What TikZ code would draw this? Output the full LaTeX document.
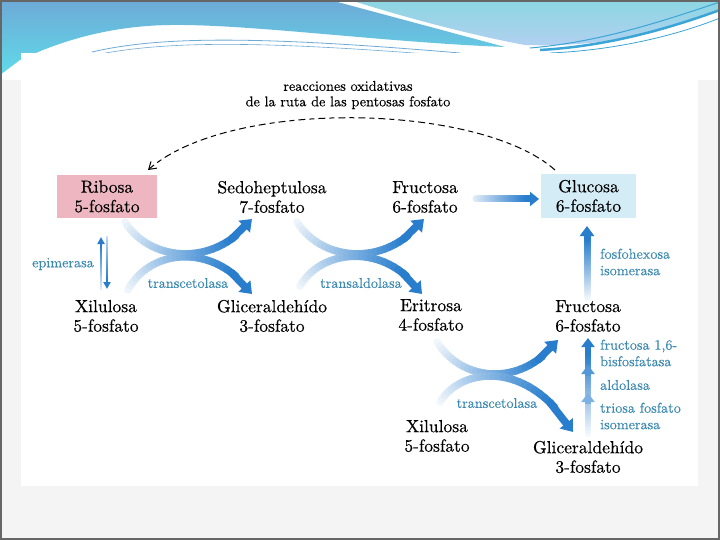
\documentclass[tikz,border=0pt]{standalone}
\usepackage{fontspec}
\newfontfamily\heavyrm{lmroman10-regular.otf}[FakeBold=0.4]
\newfontfamily\midrm{lmroman10-regular.otf}[FakeBold=0.15]
\usetikzlibrary{arrows.meta}
\definecolor{abl}{RGB}{40,125,205}
\definecolor{enz}{RGB}{60,138,178}
\definecolor{pinkbox}{RGB}{238,182,192}
\definecolor{bluebox}{RGB}{212,236,245}
\definecolor{slidebg}{RGB}{244,244,244}
\definecolor{waveA}{RGB}{110,170,215}
\definecolor{waveB}{RGB}{95,218,233}
\definecolor{waveC}{RGB}{140,214,226}
\definecolor{waveD}{RGB}{178,208,240}
\definecolor{waveL}{RGB}{60,165,215}

% gradient (fading) thick arrow along a cubic curve
% #1-#4 points, #5 name, #6 start shade, #7 line width, #8 head length, #9 head width
\newcommand\fadecurve[9]{%
  \path (#1) .. controls (#2) and (#3) .. (#4)
    foreach \k in {0,...,30} {coordinate[pos=\k/30] (#5-\k)};
  \foreach \k [count=\n from 1] in {0,...,25} {%
    \pgfmathsetmacro\shd{#6+(100-#6)*\k/25}
    \draw[line width=#7, line cap=round, draw=abl!\shd!white] (#5-\k) -- (#5-\n);
  }
  \draw[line width=#7, draw=abl, -{Triangle[length=#8,width=#9]}] (#5-25) -- (#5-30);
}

\begin{document}
\begin{tikzpicture}[x=1pt,y=-1pt,
  lab/.style={font=\heavyrm\fontsize{17.5}{19.5}\selectfont, align=center, inner sep=0pt},
  enzlab/.style={font=\midrm\fontsize{14.2}{16.5}\selectfont, text=enz, inner sep=0pt, align=left},
  toplab/.style={font=\midrm\fontsize{14.2}{15.5}\selectfont, align=center, inner sep=0pt},
  oxarc/.style={line width=1pt, dash pattern=on 7pt off 4pt on 5pt off 4pt},
  waveline/.style={draw=waveL}]
\useasboundingbox (0,0) rectangle (720,540);
% slide background
\fill[slidebg] (0,0) rectangle (720,540);
\fill[white] (0,0) rectangle (720,80);
\shade[top color=waveA, bottom color=waveB] (0,0) -- (330,0) -- (505,47)
  .. controls (380,42) and (250,24) .. (170,25)
  .. controls (100,26) and (50,46) .. (20,60) -- (0,75) -- cycle;
\shade[top color=waveC, bottom color=waveD] (350,0) -- (720,0) -- (720,10)
  .. controls (650,38) and (590,47) .. (525,45)
  .. controls (470,35) and (400,16) .. (350,0) -- cycle;
\draw[waveline, line width=2.5pt] (540,50) .. controls (610,46) and (670,28) .. (720,10);
\draw[waveline, line width=1pt] (530,48) .. controls (600,42) and (660,22) .. (720,2);
\draw[waveline, line width=0.8pt] (550,53) .. controls (620,50) and (680,34) .. (720,18);
\draw[draw=waveA, line width=0.8pt] (92,52) .. controls (160,36) and (260,36) .. (460,53);
\draw[draw=waveA, line width=0.6pt] (100,54) .. controls (170,41) and (260,41) .. (440,55);
% picture area
\fill[white] (21,53) rectangle (698,486);
\draw[line width=2pt, draw=black!60] (1,1) rectangle (719,539);

% metabolites
\node[lab, fill=pinkbox, minimum width=100pt, minimum height=43pt] (rib) at (107,196.5) {Ribosa\\5-fosfato};
\node[lab] (sed) at (272,197) {Sedoheptulosa\\7-fosfato};
\node[lab] (fru1) at (425,197) {Fructosa\\6-fosfato};
\node[lab, fill=bluebox, minimum width=95pt, minimum height=44pt] (glu) at (588.5,196) {Glucosa\\6-fosfato};
\node[lab] (xil1) at (106,316) {Xilulosa\\5-fosfato};
\node[lab] (gap1) at (272,316) {Gliceraldehído\\3-fosfato};
\node[lab] (eri) at (431,315) {Eritrosa\\4-fosfato};
\node[lab] (fru2) at (588,316) {Fructosa\\6-fosfato};
\node[lab] (xil2) at (437,436) {Xilulosa\\5-fosfato};
\node[lab] (gap2) at (588,457) {Gliceraldehído\\3-fosfato};

% labels
\node[toplab] (ox) at (348,95) {reacciones oxidativas\\de la ruta de las pentosas fosfato};
\node[enzlab] (epi) at (63,264) {epimerasa};
\node[enzlab] (tk1) at (188,283) {transcetolasa};
\node[enzlab] (ta) at (361,283) {transaldolasa};
\node[enzlab] (tk2) at (497,403) {transcetolasa};
\node[enzlab, anchor=west] (pgi) at (600,262) {fosfohexosa\\isomerasa};
\node[enzlab, anchor=west] (fbp) at (600,353) {fructosa 1,6-\\bisfosfatasa};
\node[enzlab, anchor=west] (ald) at (600,385) {aldolasa};
\node[enzlab, anchor=west] (tpi) at (600,416) {triosa fosfato\\isomerasa};

% dashed arc: oxidative phase
\coordinate (dA) at (555,170);
\coordinate (dB) at (148,170);
\draw[oxarc, -{Straight Barb[length=7pt,width=9pt]}] (dA) .. controls (480,103) and (230,98) .. (dB);

% epimerase
\fadecurve{101,289}{101,272}{101,255}{101,237}{e1}{15}{2.5pt}{7pt}{7pt}
\fadecurve{107,237}{107,254}{107,271}{107,289}{e2}{30}{2.5pt}{7pt}{7pt}

% transcetolasa 1
\fadecurve{125,222}{150,262}{215,268}{252,219}{a1}{8}{7.5pt}{11pt}{16pt}
\fadecurve{128,290}{150,248}{215,242}{252,294}{a2}{8}{7.5pt}{11pt}{16pt}
% transaldolasa
\fadecurve{297,222}{322,262}{387,268}{424,219}{b1}{8}{7.5pt}{11pt}{16pt}
\fadecurve{300,286}{322,248}{387,242}{422,294}{b2}{8}{7.5pt}{11pt}{16pt}
% transcetolasa 2
\fadecurve{437,342}{462,382}{522,388}{558,340}{c1}{6}{7.5pt}{11pt}{16pt}
\fadecurve{440,402}{462,366}{530,360}{573,432}{c2}{6}{7.5pt}{11pt}{16pt}

% Fructosa -> Glucosa
\fadecurve{476,199}{496,199}{516,199}{539,199}{f1}{15}{7pt}{9pt}{14pt}
% fosfohexosa isomerasa
\fadecurve{587,298}{587,275}{587,250}{587,226}{f2}{5}{7pt}{10pt}{14pt}
% gluconeogenic steps
\fadecurve{588,434}{588,400}{588,370}{588,338}{f3}{5}{6.5pt}{9pt}{13pt}
\draw[line width=6.5pt, draw=abl!80!white, -{Triangle[length=9pt,width=13pt]}] (588,376) -- (588,365);
\draw[line width=6.5pt, draw=abl!60!white, -{Triangle[length=9pt,width=13pt]}] (588,404) -- (588,393);
\end{tikzpicture}
\end{document}
